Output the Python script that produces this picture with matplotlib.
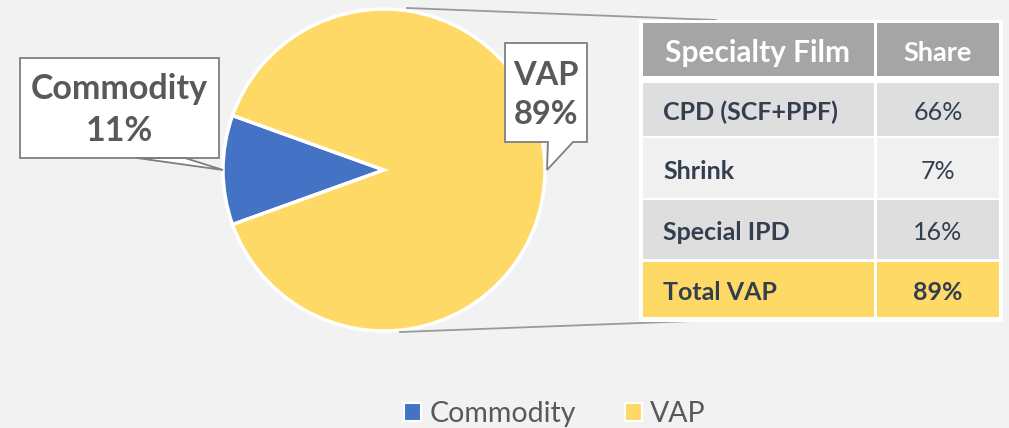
import matplotlib
matplotlib.use("Agg")
import matplotlib.pyplot as plt
from matplotlib.patches import Rectangle, Polygon, Patch

plt.rcParams['font.family'] = ['Lato', 'DejaVu Sans']

# ---- data ----
pie_labels = ["Commodity", "VAP"]
pie_values = [11, 89]
pie_colors = ["#4472C4", "#FFD966"]

table_header = ["Specialty Film", "Share"]
table_rows = ["CPD (SCF+PPF)", "Shrink", "Special IPD", "Total VAP"]
table_shares = ["66%", "7%", "16%", "89%"]

W, H = 1009, 428
fig = plt.figure(figsize=(W / 100, H / 100), dpi=100)
fig.patch.set_facecolor("#F2F2F2")
ax = fig.add_axes([0, 0, 1, 1])
ax.set_facecolor("#F2F2F2")

def Y(y):
    return H - y

# ---- pie ----
cx, cy, r = 384, 170, 161
start = 180 - pie_values[0] / sum(pie_values) * 360 / 2
wedges, _ = ax.pie(pie_values, colors=pie_colors, startangle=start, counterclock=True,
                   center=(cx, Y(cy)), radius=r, frame=True,
                   wedgeprops=dict(edgecolor="white", linewidth=2.5))

# connector lines from pie to table
ax.plot([407, 716], [Y(8), Y(20)], color="#9A9A9A", lw=1.3, zorder=1)
ax.plot([400, 720], [Y(332), Y(320)], color="#9A9A9A", lw=1.3, zorder=1)

# ---- table ----
col_x = [643, 877]
col_w = [231, 122]
row_y = [23, 83, 138, 200, 262]
row_h = [53, 53, 60, 59, 55]
header_color = "#A5A5A5"
row_colors = ["#DEDEDE", "#F0F0F0", "#DEDEDE", "#FFD966"]
text_dark = "#333F4F"
dy = 3

ax.add_patch(Rectangle((639, Y(322)), 364, 302, facecolor="white", edgecolor="none", zorder=2))
for ci in range(2):
    ax.add_patch(Rectangle((col_x[ci], Y(row_y[0] + row_h[0])), col_w[ci], row_h[0],
                           facecolor=header_color, edgecolor="none", zorder=3))
    ax.text(col_x[0] + 22 if ci == 0 else col_x[1] + col_w[1] / 2, Y(row_y[0] + row_h[0] / 2 + dy),
            table_header[ci], ha="left" if ci == 0 else "center", va="center",
            color="white", fontsize=21.5 if ci == 0 else 19.5, fontweight="bold", zorder=4)
for ri, (lab, val) in enumerate(zip(table_rows, table_shares)):
    y0 = row_y[ri + 1]
    h = row_h[ri + 1]
    for ci in range(2):
        ax.add_patch(Rectangle((col_x[ci], Y(y0 + h)), col_w[ci], h,
                               facecolor=row_colors[ri], edgecolor="none", zorder=3))
    ax.text(col_x[0] + 20, Y(y0 + h / 2 + dy), lab, ha="left", va="center", color=text_dark,
            fontsize=18, fontweight="bold", zorder=4)
    ax.text(col_x[1] + col_w[1] / 2, Y(y0 + h / 2 + dy), val, ha="center", va="center", color=text_dark,
            fontsize=18, fontweight="bold" if ri == 3 else "normal", zorder=4)

# ---- callouts ----
def callout(x0, y0, x1, y1, px0, px1, tip, text, fs, ty):
    pts = [(x0, Y(y0)), (x1, Y(y0)), (x1, Y(y1)), (px1, Y(y1)), (tip[0], Y(tip[1])),
           (px0, Y(y1)), (x0, Y(y1))]
    ax.add_patch(Polygon(pts, closed=True, facecolor="white", edgecolor="#7F7F7F", lw=1.3, zorder=5))
    ax.text((x0 + x1) / 2, Y(ty), text, ha="center", va="center", color="#595959",
            fontsize=fs, fontweight="bold", linespacing=1.42, zorder=6)

callout(20, 58, 219, 158, 185, 137, (223, 170), f"{pie_labels[0]}\n{pie_values[0]}%", 24.5, 110)
callout(505, 43, 587, 142, 548, 573, (547, 170), f"{pie_labels[1]}\n{pie_values[1]}%", 23.5, 95)

# ---- legend ----
handles = [Patch(facecolor=c, edgecolor="white", lw=1.5) for c in pie_colors]
leg = ax.legend(handles, pie_labels, loc="center", bbox_to_anchor=(555 / W, 1 - 414 / H),
                ncol=2, frameon=False, fontsize=20.5, handlelength=0.6, handleheight=0.6,
                handletextpad=0.3, columnspacing=1.7, labelcolor="#595959")

ax.set_xlim(0, W)
ax.set_ylim(0, H)
ax.set_aspect("auto")
ax.axis("off")
fig.savefig("out.png", dpi=100, facecolor=fig.get_facecolor())
